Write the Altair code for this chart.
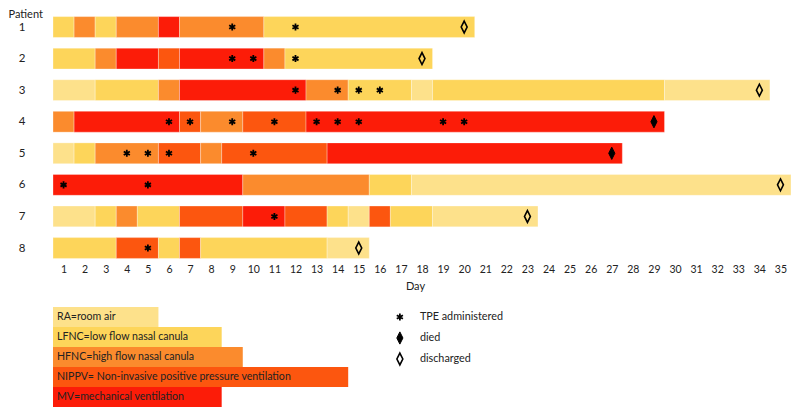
import altair as alt
import pandas as pd

# ---------------- data ----------------
status_order = ["RA", "LFNC", "HFNC", "NIPPV", "MV"]
status_colors = ["#FDE18B", "#FDD55A", "#FB8B2D", "#FC560F", "#FC1C08"]
legend_labels = [
    "RA=room air",
    "LFNC=low flow nasal canula",
    "HFNC=high flow nasal canula",
    "NIPPV= Non-invasive positive pressure ventilation",
    "MV=mechanical ventilation",
]
legend_box_last_day = [5, 8, 9, 14, 8]  # spreadsheet cells spanned by each legend box

days = list(range(1, 36))
patients = list(range(1, 9))

# (status, first day, last day)
p1_segments = [("LFNC", 1, 1), ("HFNC", 2, 2), ("LFNC", 3, 3), ("HFNC", 4, 5), ("MV", 6, 6),
               ("HFNC", 7, 10), ("LFNC", 11, 20)]
p2_segments = [("LFNC", 1, 2), ("HFNC", 3, 3), ("MV", 4, 5), ("NIPPV", 6, 6), ("MV", 7, 10),
               ("HFNC", 11, 11), ("LFNC", 12, 18)]
p3_segments = [("RA", 1, 2), ("LFNC", 3, 5), ("HFNC", 6, 6), ("MV", 7, 12), ("HFNC", 13, 14),
               ("LFNC", 15, 17), ("RA", 18, 18), ("LFNC", 19, 29), ("RA", 30, 34)]
p4_segments = [("HFNC", 1, 1), ("MV", 2, 6), ("NIPPV", 7, 7), ("HFNC", 8, 9), ("NIPPV", 10, 12),
               ("MV", 13, 29)]
p5_segments = [("RA", 1, 1), ("LFNC", 2, 2), ("HFNC", 3, 5), ("NIPPV", 6, 7), ("HFNC", 8, 8),
               ("NIPPV", 9, 13), ("MV", 14, 27)]
p6_segments = [("MV", 1, 9), ("HFNC", 10, 15), ("LFNC", 16, 17), ("RA", 18, 35)]
p7_segments = [("RA", 1, 2), ("LFNC", 3, 3), ("HFNC", 4, 4), ("LFNC", 5, 6), ("NIPPV", 7, 9),
               ("MV", 10, 11), ("NIPPV", 12, 13), ("LFNC", 14, 14), ("RA", 15, 15),
               ("NIPPV", 16, 16), ("LFNC", 17, 18), ("RA", 19, 23)]
p8_segments = [("LFNC", 1, 3), ("NIPPV", 4, 5), ("LFNC", 6, 6), ("NIPPV", 7, 7), ("LFNC", 8, 13),
               ("RA", 14, 15)]
all_segments = [p1_segments, p2_segments, p3_segments, p4_segments,
                p5_segments, p6_segments, p7_segments, p8_segments]

tpe_days = [[9, 12], [9, 10, 12], [12, 14, 15, 16], [6, 7, 9, 11, 13, 14, 15, 19, 20],
            [4, 5, 6, 10], [1, 5], [11], [5]]
outcome_type = ["discharged", "discharged", "discharged", "died", "died",
                "discharged", "discharged", "discharged"]
outcome_day = [20, 18, 34, 29, 27, 35, 23, 15]
symbol_labels = ["TPE administered", "died", "discharged"]

# ---------------- tables ----------------
seg_df = pd.DataFrame([
    {"patient": p, "status": s, "first": a, "last": b}
    for p, segs in zip(patients, all_segments) for (s, a, b) in segs
])
tpe_df = pd.DataFrame([{"patient": p, "day": d} for p, ds in zip(patients, tpe_days) for d in ds])
out_df = pd.DataFrame({"patient": patients, "day": outcome_day, "type": outcome_type})
legend_df = pd.DataFrame({"label": legend_labels, "status": status_order,
                          "row": list(range(5)), "last": legend_box_last_day})
sym_df = pd.DataFrame({"label": symbol_labels, "idx": [0, 1, 2]})

# ---------------- style ----------------
FONT = "Lato"
TXT = "#222222"
ASTERISK = "M0,-1L0,1M-0.866,-0.5L0.866,0.5M-0.866,0.5L0.866,-0.5"
DIAMOND = "M0,-1L0.5,0L0,1L-0.5,0Z"
W = 738
X_SCALE = alt.Scale(domain=[0.5, 35.5], nice=False, zero=False)
Y_SCALE = alt.Scale(domain=[0.398, 8.5], reverse=True, nice=False, zero=False)
LY_SCALE = alt.Scale(domain=[0, 5], reverse=True, nice=False, zero=False)
COLOR = alt.Color("status:N", scale=alt.Scale(domain=status_order, range=status_colors), legend=None)

X_AXIS = alt.Axis(
    values=days, format="d", title="Day", grid=False, domain=False, ticks=False,
    labelFontSize=10.5, labelFont=FONT, labelColor=TXT, labelPadding=1,
    titleFont=FONT, titleFontSize=11, titleFontWeight="normal", titleColor=TXT, titlePadding=5,
    titleX=362, titleAlign="center")
Y_AXIS = alt.Axis(
    values=patients, format="d", title="Patient", grid=False, domain=False, ticks=False,
    labelFontSize=11.5, labelFont=FONT, labelColor=TXT, labelPadding=28,
    titleFont=FONT, titleFontSize=11, titleFontWeight="normal", titleColor=TXT,
    titleAngle=0, titleAlign="left", titleBaseline="top", titleX=-45, titleY=0)

# ---------------- top: timeline ----------------
bars = alt.Chart(seg_df).transform_calculate(
    x0="datum.first - 0.5", x1="datum.last + 0.5",
    y0="datum.patient - 0.33", y1="datum.patient + 0.33",
).mark_rect(stroke="white", strokeWidth=0.6, strokeOpacity=0.5).encode(
    x=alt.X("x0:Q", scale=X_SCALE, axis=X_AXIS),
    x2="x1:Q",
    y=alt.Y("y0:Q", scale=Y_SCALE, axis=Y_AXIS),
    y2="y1:Q",
    color=COLOR,
)

stars = alt.Chart(tpe_df).mark_point(shape=ASTERISK, filled=False, stroke="black",
                                     strokeWidth=1.8, size=50, opacity=1).encode(
    x=alt.X("day:Q", scale=X_SCALE, axis=X_AXIS),
    y=alt.Y("patient:Q", scale=Y_SCALE, axis=Y_AXIS),
)

died = alt.Chart(out_df).transform_filter("datum.type == 'died'").mark_point(
    shape=DIAMOND, filled=True, fill="black", stroke="black", strokeWidth=1, size=150, opacity=1
).encode(
    x=alt.X("day:Q", scale=X_SCALE, axis=X_AXIS),
    y=alt.Y("patient:Q", scale=Y_SCALE, axis=Y_AXIS),
)

disch = alt.Chart(out_df).transform_filter("datum.type == 'discharged'").mark_point(
    shape=DIAMOND, filled=False, stroke="black", strokeWidth=1.6, size=140, opacity=1
).encode(
    x=alt.X("day:Q", scale=X_SCALE, axis=X_AXIS),
    y=alt.Y("patient:Q", scale=Y_SCALE, axis=Y_AXIS),
)

top = alt.layer(bars, stars, died, disch).properties(width=W, height=255.8)

# ---------------- bottom: legends ----------------
boxes = alt.Chart(legend_df).transform_calculate(
    x0="0.5", x1="datum.last + 0.5", y1="datum.row + 1"
).mark_rect().encode(
    x=alt.X("x0:Q", scale=X_SCALE, axis=None),
    x2="x1:Q",
    y=alt.Y("row:Q", scale=LY_SCALE, axis=None),
    y2="y1:Q",
    color=COLOR,
)
box_text = alt.Chart(legend_df).transform_calculate(
    x0="0.5", ym="datum.row + 0.5"
).mark_text(align="left", baseline="middle", dx=4, font=FONT, fontSize=10.6, color=TXT).encode(
    x=alt.X("x0:Q", scale=X_SCALE, axis=None),
    y=alt.Y("ym:Q", scale=LY_SCALE, axis=None),
    text="label:N",
)

sym_base = alt.Chart(sym_df).transform_calculate(
    xs="16.95", xt="17.9", ys="datum.idx * 1.05 + 0.5"
)
sym_star = sym_base.transform_filter("datum.idx == 0").mark_point(
    shape=ASTERISK, filled=False, stroke="black", strokeWidth=1.8, size=50, opacity=1
).encode(x=alt.X("xs:Q", scale=X_SCALE, axis=None), y=alt.Y("ys:Q", scale=LY_SCALE, axis=None))
sym_died = sym_base.transform_filter("datum.idx == 1").mark_point(
    shape=DIAMOND, filled=True, fill="black", stroke="black", strokeWidth=1, size=150, opacity=1
).encode(x=alt.X("xs:Q", scale=X_SCALE, axis=None), y=alt.Y("ys:Q", scale=LY_SCALE, axis=None))
sym_disch = sym_base.transform_filter("datum.idx == 2").mark_point(
    shape=DIAMOND, filled=False, stroke="black", strokeWidth=1.6, size=140, opacity=1
).encode(x=alt.X("xs:Q", scale=X_SCALE, axis=None), y=alt.Y("ys:Q", scale=LY_SCALE, axis=None))
sym_text = sym_base.mark_text(align="left", baseline="middle", font=FONT, fontSize=10.8,
                              color=TXT).encode(
    x=alt.X("xt:Q", scale=X_SCALE, axis=None),
    y=alt.Y("ys:Q", scale=LY_SCALE, axis=None),
    text="label:N",
)

bottom = alt.layer(boxes, box_text, sym_star, sym_died, sym_disch, sym_text).properties(
    width=W, height=100)

chart = alt.vconcat(top, bottom, spacing=15).properties(
    padding=0, background="white"
).configure_view(stroke=None)

chart.save("out.html", embed_options={"renderer": "svg", "actions": False})
